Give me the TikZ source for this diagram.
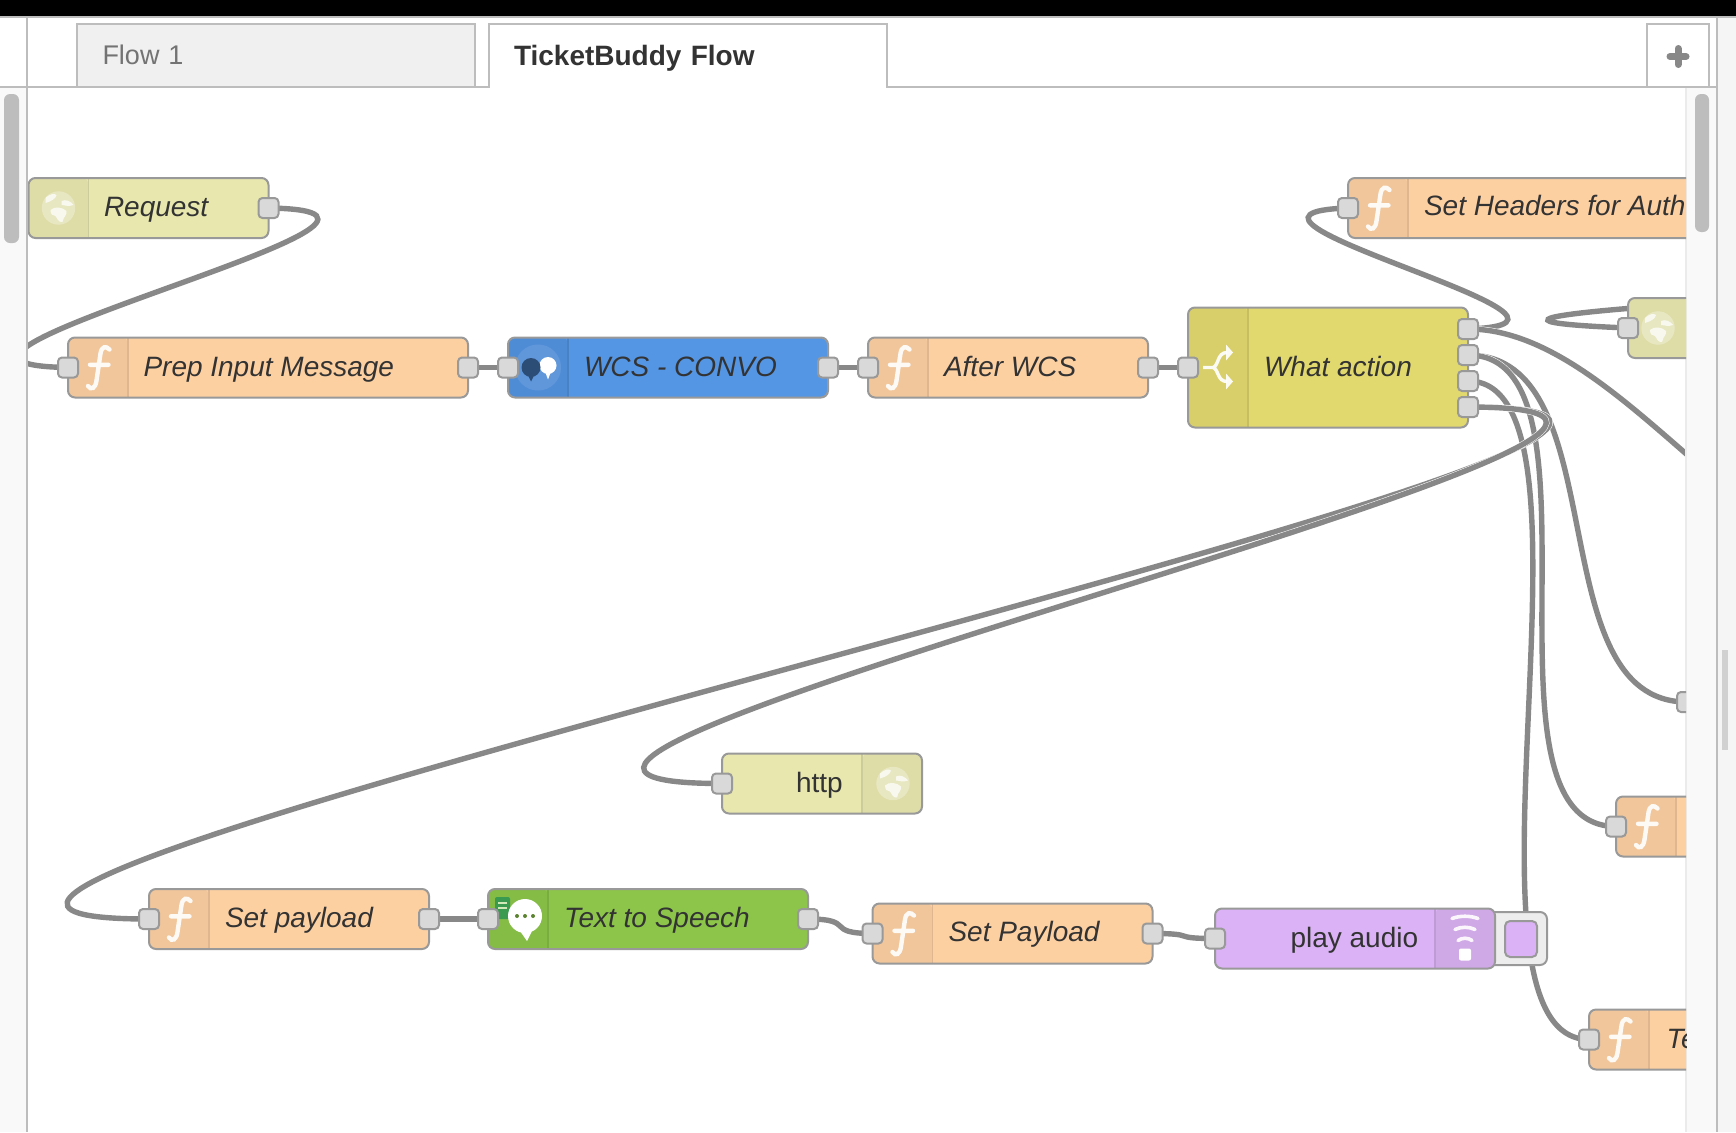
\documentclass[tikz,border=0pt]{standalone}
\usepackage{fontspec}
\setmainfont{Liberation Sans}
\usetikzlibrary{backgrounds}
\definecolor{wirec}{HTML}{888888}
\definecolor{edgec}{HTML}{999999}
\definecolor{chromec}{HTML}{BDBDBD}
\definecolor{trackc}{HTML}{F9F9F9}
\definecolor{portc}{HTML}{D9D9D9}
\definecolor{inkc}{HTML}{333333}
\definecolor{funcc}{HTML}{FDD0A2}
\definecolor{funcb}{HTML}{F1C69B}
\definecolor{httpc}{HTML}{E7E7AE}
\definecolor{httpb}{HTML}{DEDDA8}
\definecolor{wcsc}{HTML}{5596E4}
\definecolor{wcsb}{HTML}{4F8CD6}
\definecolor{switchc}{HTML}{E2D96E}
\definecolor{switchb}{HTML}{D8CF6A}
\definecolor{ttsc}{HTML}{8CC54A}
\definecolor{ttsb}{HTML}{84BC45}
\definecolor{ttsdoc}{HTML}{3A9A50}
\definecolor{audioc}{HTML}{DAB2F5}
\definecolor{audiob}{HTML}{CFA8E6}

\begin{document}
\begin{tikzpicture}[x=1pt, y=-1pt,
 body/.style={draw=edgec, line width=2pt, rounded corners=7pt, anchor=west, minimum height=60pt, inner sep=0pt, outer sep=0pt},
 bandl/.style={path picture={\fill[#1] (path picture bounding box.north west) rectangle ++(60,200);
   \draw[#1!92!black, line width=1.2pt] ([xshift=60pt]path picture bounding box.north west) -- ++(0,200);}},
 bandr/.style={path picture={\fill[#1] (path picture bounding box.north east) rectangle ++(-60,200);
   \draw[#1!92!black, line width=1.2pt] ([xshift=-60pt]path picture bounding box.north east) -- ++(0,200);}},
 func/.style={body, fill=funcc, bandl=funcb},
 port/.style={draw=edgec, fill=portc, line width=2pt, rounded corners=4pt, minimum size=20pt, inner sep=0pt, outer sep=0pt},
 lbl/.style={anchor=west, inner sep=0pt, outer sep=0pt, text=inkc, text height=24pt, text depth=6pt, font=\fontsize{28}{32}\selectfont\itshape},
 plainlbl/.style={lbl, font=\fontsize{28}{32}\selectfont},
 wire/.style={draw=wirec, line width=5.4pt, preaction={draw=white, line width=6.4pt}},
 chrome/.style={draw=chromec, line width=2pt},
 tabbox/.style={anchor=north west, minimum height=63pt, inner sep=0pt, outer sep=0pt, align=left},
 ficon/.pic={\draw[white, line width=4.4pt, line cap=round, opacity=.9]
    (11.5,-18) .. controls (8,-22) and (3.5,-21) .. (2.5,-14) -- (-1.5,13) .. controls (-2.5,21) and (-7,23) .. (-10,18.5)
    (-8,-2.7) -- (10.5,-2.7);},
 globeicon/.pic={\fill[white, opacity=.3] (0,0) circle (16.7);
    \fill[white, opacity=.75] (-8,2) .. controls (-4,-2) and (4,-1) .. (8,3) .. controls (9,7) and (5,8) .. (4,14) .. controls (0,15) and (-2,9) .. (-3,8) .. controls (-6,8) and (-8,6) .. (-8,2)
    (-13,-10) .. controls (-9,-14) and (-4,-15) .. (-2,-13) .. controls (-3,-9) and (-7,-7) .. (-13,-5) -- cycle
    (3,-7) .. controls (7,-9) and (12,-7) .. (15,-3) .. controls (10,-1) and (6,-3) .. (3,-3) -- cycle;},
 switchicon/.pic={\draw[white, line width=3.4pt, opacity=.92]
    (-15,0) -- (-5,0) .. controls (1,-2) and (-1,-15) .. (9,-15)
    (-5,0) .. controls (1,2) and (-1,14) .. (9,14);
    \fill[white, opacity=.92] (8,-23) -- (15,-15) -- (8,-7) -- cycle (8,22) -- (15,14) -- (8,6) -- cycle;},
 wifiicon/.pic={\fill[white, rounded corners=2pt] (-6,10) rectangle (6,22);
    \draw[white, line width=3.6pt, line cap=round, opacity=.9]
    (-7,2) .. controls (-3,-1) and (3,-1) .. (7,2)
    (-10,-9) .. controls (-4,-12) and (4,-12) .. (10,-9)
    (-13,-20) .. controls (-5,-23) and (5,-23) .. (13,-20);}
]
\useasboundingbox (0,0) rectangle (1736,1132);

% window around the canvas
\fill[trackc] (0,88) rectangle (26,1132);
\fill[trackc] (1686,88) rectangle (1716,1132);
\fill[black!4] (1718,18) rectangle (1736,1132);
\fill[chromec, rounded corners=6pt] (4,94) rectangle (19,243);
\fill[chromec, rounded corners=6pt] (1695,94) rectangle (1709,232);
\fill[black!18] (1722,650) rectangle (1728,750);
\fill[black] (0,0) rectangle (1736,16);
\draw[chrome] (0,17) -- (1736,17);
\draw[chrome] (27,17) -- (27,1132);
\draw[chrome] (1717,17) -- (1717,1132);
\draw[black!8, line width=1.5pt] (1686,88) -- (1686,1132);

\node[tabbox, draw=chromec, line width=2pt, fill=black!6, minimum width=398pt, text width=346pt, text height=22pt, text depth=5pt, text=black!55, font=\fontsize{27}{32}\selectfont] (flowtab) at (76.5,24) {Flow 1};
\node[tabbox, minimum width=398pt, text width=348pt, text height=24pt, text depth=3pt, text=inkc, font=\fontsize{28}{32}\selectfont\bfseries] (ticktab) at (489,24) {TicketBuddy Flow};
\node[tabbox, draw=chromec, line width=2pt, minimum width=62pt] (addtab) at (1647,24) {};
\draw[chrome] (0,87) -- (ticktab.south west) -- (ticktab.north west) -- (ticktab.north east) -- (ticktab.south east) -- (1717,87);
\draw[wirec, line width=7pt, line cap=round] ([yshift=-1pt]addtab.center) ++(-8,0) -- ++(16,0) ++(-8,-8) -- ++(0,16);

\begin{scope}
\clip (28,88) rectangle (1686,1132);

\node[body, fill=httpc, bandl=httpb, minimum width=240pt] (request) at (28.5,208) {};
\node[lbl] (requestlbl) at (104,207) {Request};
\node[func, minimum width=400pt] (prep) at (68,367.5) {};
\node[lbl] (preplbl) at (143.5,367.5) {Prep Input Message};
\node[body, fill=wcsc, bandl=wcsb, minimum width=320pt] (wcs) at (508,367.5) {};
\node[lbl] (wcslbl) at (584,367.5) {WCS - CONVO};
\node[func, minimum width=280pt] (after) at (868,367.5) {};
\node[lbl] (afterlbl) at (944,367.5) {After WCS};
\node[body, fill=switchc, bandl=switchb, minimum width=280pt, minimum height=120pt] (what) at (1188,367.5) {};
\node[lbl] (whatlbl) at (1264,367.5) {What action};
\node[func, minimum width=500pt] (headers) at (1348,208) {};
\node[lbl] (headerslbl) at (1424,206.5) {Set Headers for Auth};
\node[body, fill=httpc, bandl=httpb, minimum width=300pt] (httpin) at (1628,328) {};
\node[body, fill=httpc, bandr=httpb, minimum width=200pt] (httpout) at (722,783.5) {};
\node[plainlbl] (httplbl) at (796,783.5) {http};
\node[func, minimum width=280pt] (setpay) at (149,919) {};
\node[lbl] (setpaylbl) at (225,918) {Set payload};
\node[body, fill=ttsc, bandl=ttsb, minimum width=320pt] (tts) at (488,919) {};
\node[lbl] (ttslbl) at (564,918) {Text to Speech};
\node[func, minimum width=280pt] (setload) at (872.5,933.5) {};
\node[lbl] (setloadlbl) at (948.5,932.5) {Set Payload};
\node[draw=edgec, fill=black!7, line width=2pt, rounded corners=7pt, anchor=west, outer sep=0pt, minimum width=67pt, minimum height=53pt, inner sep=0pt] (playbtn) at (1480,938.5) {};
\node[body, fill=audioc, bandr=audiob, minimum width=280pt] (play) at (1215,938.5) {};
\node[plainlbl] (playlbl) at (1290.5,938.5) {play audio};
\node[draw=edgec, fill=audioc, line width=2pt, rounded corners=5pt, minimum width=32pt, minimum height=36pt, inner sep=0pt] (playsq) at (1521,939) {};
\node[func, minimum width=300pt] (fmid) at (1616,826.5) {};
\node[func, minimum width=300pt] (ftemp) at (1589,1039.5) {};
\node[lbl] (ftemplbl) at (1666.5,1039.5) {Te};

\foreach \n in {prep,after,headers,setpay,setload,fmid,ftemp}
  \pic at ([xshift=30pt]\n.west) {ficon};
\pic at ([xshift=30pt]request.west) {globeicon};
\pic at ([xshift=30pt]httpin.west) {globeicon};
\pic at ([xshift=-29pt]httpout.east) {globeicon};
\pic at ([xshift=30pt]what.west) {switchicon};
\pic at ([xshift=-30pt]play.east) {wifiicon};

% watson bubbles
\fill[white, opacity=.1] ([xshift=30pt]wcs.west) circle (23);
\fill[white] ([xshift=40pt,yshift=2pt]wcs.west) circle (8.5);
\fill[white] ([xshift=37pt,yshift=-4pt]wcs.west) -- ++(6,0) -- ++(-3,8) -- cycle;
\fill[wcsb!55!black] ([xshift=23pt]wcs.west) circle (9.5) ([xshift=19pt,yshift=-6pt]wcs.west) -- ++(8,0) -- ++(-4,8) -- cycle;

% speech icon
\fill[ttsdoc, rounded corners=2pt] ([xshift=7pt,yshift=22pt]tts.west) rectangle ++(15,22);
\draw[white!60!ttsc, line width=1.6pt] ([xshift=10pt,yshift=16pt]tts.west) -- ++(9,0) ([xshift=10pt,yshift=11pt]tts.west) -- ++(9,0);
\fill[white] ([xshift=37pt,yshift=3pt]tts.west) circle (17) ([xshift=32pt,yshift=-12pt]tts.west) -- ++(12,0) -- ++(-5,10) -- cycle;
\foreach \dx in {-8,0,8}
  \fill[ttsb!70!black] ([xshift=37pt+\dx pt,yshift=3pt]tts.west) circle (2);

% ports
\node[port] (requestout) at (request.east) {};
\node[port] (prepin) at (prep.west) {};
\node[port] (prepout) at (prep.east) {};
\node[port] (wcsin) at (wcs.west) {};
\node[port] (wcsout) at (wcs.east) {};
\node[port] (afterin) at (after.west) {};
\node[port] (afterout) at (after.east) {};
\node[port] (whatin) at (what.west) {};
\node[port] (whatouta) at ([yshift=38.5pt]what.east) {};
\node[port] (whatoutb) at ([yshift=12.5pt]what.east) {};
\node[port] (whatoutc) at ([yshift=-13.5pt]what.east) {};
\node[port] (whatoutd) at ([yshift=-39.5pt]what.east) {};
\node[port] (headersin) at (headers.west) {};
\node[port] (httpinin) at (httpin.west) {};
\node[port] (httpoutin) at (httpout.west) {};
\node[port] (setpayin) at (setpay.west) {};
\node[port] (setpayout) at (setpay.east) {};
\node[port] (ttsin) at (tts.west) {};
\node[port] (ttsout) at (tts.east) {};
\node[port] (setloadin) at (setload.west) {};
\node[port] (setloadout) at (setload.east) {};
\node[port] (playin) at (play.west) {};
\node[port] (fmidin) at (fmid.west) {};
\node[port] (ftempin) at (ftemp.west) {};
\node[port] (edgein) at (1687,702) {};
\coordinate (offglobe) at (2228,250);
\coordinate (offright) at (1900,575);
\end{scope}

\begin{pgfonlayer}{background}
\fill[white] (0,0) rectangle (1736,1132);
\begin{scope}
\clip (28,88) rectangle (1686,1132);
\draw[wire] (requestout.center) .. controls +(230,3.5) and +(-230,-3.5) .. (prepin.center);
\draw[wire] (prepout.center) -- (wcsin.center);
\draw[wire] (wcsout.center) -- (afterin.center);
\draw[wire] (afterout.center) -- (whatin.center);
\draw[wire] (whatouta.center) .. controls +(175.5,-5.9) and +(-175.5,5.9) .. (headersin.center);
\draw[wire] (whatouta.center) .. controls +(150,0) and +(-150,0) .. (offright);
\draw[wire] (offglobe) .. controls +(430,17.5) and +(-430,-17.5) .. (httpinin.center);
\draw[wire] (whatoutb.center) .. controls +(150,0) and +(-150,0) .. (edgein.center);
\draw[wire] (whatoutb.center) .. controls +(150,0) and +(-150,0) .. (fmidin.center);
\draw[wire] (whatoutc.center) .. controls +(150,0) and +(-150,0) .. (ftempin.center);
\draw[wire] (whatoutd.center) .. controls +(550,0) and +(-550,0) .. (setpayin.center);
\draw[wire] (whatoutd.center) .. controls +(448.4,0) and +(-448.4,0) .. (httpoutin.center);
\draw[wire] (setpayout.center) -- (ttsin.center);
\draw[wire] (ttsout.center) .. controls +(49.5,0) and +(-49.5,0) .. (setloadin.center);
\draw[wire] (setloadout.center) .. controls +(47,0) and +(-47,0) .. (playin.center);
\end{scope}
\end{pgfonlayer}
\end{tikzpicture}
\end{document}
